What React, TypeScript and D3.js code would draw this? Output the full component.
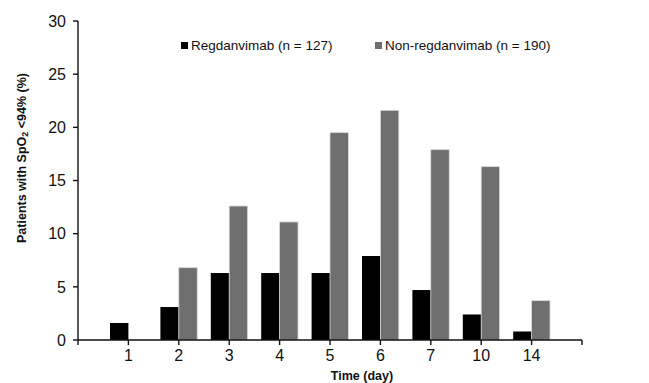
import { useEffect, useRef } from "react";
import * as d3 from "d3";

const days = ["1", "2", "3", "4", "5", "6", "7", "10", "14"];
const regdanvimab = [1.6, 3.1, 6.3, 6.3, 6.3, 7.9, 4.7, 2.4, 0.8];
const nonRegdanvimab = [0, 6.8, 12.6, 11.1, 19.5, 21.6, 17.9, 16.3, 3.7];
const yTicks = [0, 5, 10, 15, 20, 25, 30];
const seriesNames = ["Regdanvimab (n = 127)", "Non-regdanvimab (n = 190)"];

const App = () => {
  const svgRef = useRef<SVGSVGElement>(null);

  useEffect(() => {
    const svg = d3.select(svgRef.current);
    svg.selectAll("*").remove();

    const left = 78;
    const right = 582;
    const top = 21;
    const bottom = 340;
    const barW = 18.4;
    const font = "Liberation Sans, Arial, sans-serif";

    const x = d3.scaleLinear().domain([0, days.length + 1]).range([left, right]);
    const y = d3.scaleLinear().domain([0, 30]).range([bottom, top]);

    // bars
    svg
      .append("g")
      .selectAll("rect")
      .data(regdanvimab)
      .enter()
      .append("rect")
      .attr("x", (_, i) => x(i + 1) - barW)
      .attr("width", barW)
      .attr("y", (d) => y(d))
      .attr("height", (d) => bottom - y(d))
      .attr("fill", "#000");

    svg
      .append("g")
      .selectAll("rect")
      .data(nonRegdanvimab)
      .enter()
      .append("rect")
      .attr("x", (_, i) => x(i + 1))
      .attr("width", barW)
      .attr("y", (d) => y(d))
      .attr("height", (d) => bottom - y(d))
      .attr("fill", "#6f6f6f")
      .attr("stroke", (d) => (d > 0 ? "#d8d8d8" : "none"))
      .attr("stroke-width", 0.8);

    // y axis
    const yAxis = svg.append("g").attr("transform", `translate(${left},0)`);
    yAxis
      .append("line")
      .attr("x1", 0)
      .attr("x2", 0)
      .attr("y1", top)
      .attr("y2", bottom)
      .attr("stroke", "#111")
      .attr("stroke-width", 1.4);
    yTicks.forEach((t) => {
      yAxis
        .append("line")
        .attr("x1", -5)
        .attr("x2", 0)
        .attr("y1", y(t))
        .attr("y2", y(t))
        .attr("stroke", "#111")
        .attr("stroke-width", 1.4);
      yAxis
        .append("text")
        .attr("x", -12)
        .attr("y", y(t))
        .attr("dy", "0.36em")
        .attr("text-anchor", "end")
        .attr("font-family", font)
        .attr("font-size", 16)
        .attr("fill", "#111")
        .text(t);
    });

    // x axis
    const xAxis = svg.append("g").attr("transform", `translate(0,${bottom})`);
    xAxis
      .append("line")
      .attr("x1", left)
      .attr("x2", right)
      .attr("stroke", "#111")
      .attr("stroke-width", 1.4);
    d3.range(days.length + 2).forEach((i) => {
      xAxis
        .append("line")
        .attr("x1", x(i))
        .attr("x2", x(i))
        .attr("y1", 0)
        .attr("y2", 5)
        .attr("stroke", "#111")
        .attr("stroke-width", 1.4);
    });
    days.forEach((d, i) => {
      xAxis
        .append("text")
        .attr("x", x(i + 1))
        .attr("y", 21)
        .attr("text-anchor", "middle")
        .attr("font-family", font)
        .attr("font-size", 16)
        .attr("fill", "#111")
        .text(d);
    });

    svg
      .append("text")
      .attr("x", 362)
      .attr("y", 380)
      .attr("text-anchor", "middle")
      .attr("font-family", font)
      .attr("font-size", 12.5)
      .attr("font-weight", "bold")
      .attr("fill", "#111")
      .text("Time (day)");

    // y title
    const yTitle = svg
      .append("text")
      .attr("transform", "translate(26,158) rotate(-90)")
      .attr("text-anchor", "middle")
      .attr("font-family", font)
      .attr("font-size", 12.5)
      .attr("font-weight", "bold")
      .attr("fill", "#111");
    yTitle.append("tspan").text("Patients with SpO");
    yTitle.append("tspan").attr("font-size", 9).attr("dy", 2).text("2");
    yTitle.append("tspan").attr("dy", -2).text(" <94% (%)");

    // legend
    const legendX = [181, 375];
    const colors = ["#000", "#6f6f6f"];
    seriesNames.forEach((name, i) => {
      svg
        .append("rect")
        .attr("x", legendX[i])
        .attr("y", 42)
        .attr("width", 7)
        .attr("height", 7)
        .attr("fill", colors[i]);
      svg
        .append("text")
        .attr("x", legendX[i] + 10)
        .attr("y", 50)
        .attr("font-family", font)
        .attr("font-size", 13.5)
        .attr("fill", "#111")
        .text(name);
    });
  }, []);

  return <svg ref={svgRef} width={649} height={383} style={{ position: "absolute", left: 0, top: 0, background: "#fff" }} />;
};

export default App;
